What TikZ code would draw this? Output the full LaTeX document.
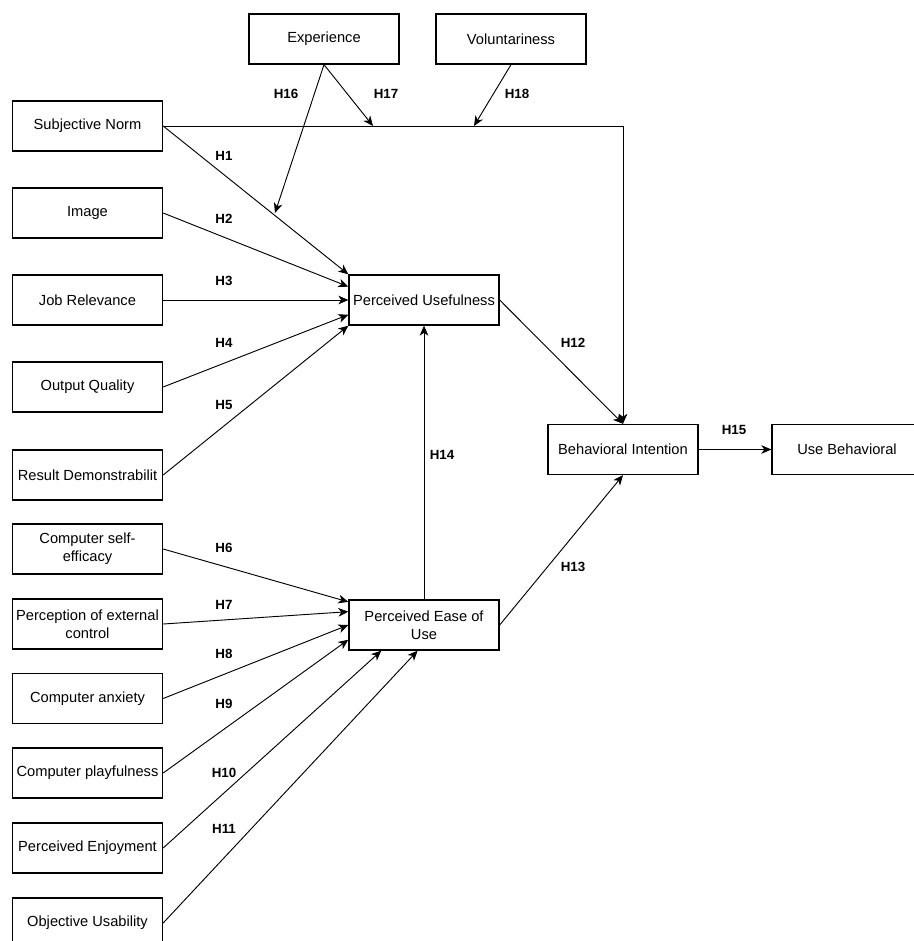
\documentclass[tikz,border=0pt]{standalone}
\usepackage{fontspec}
\setmainfont{Liberation Sans}
\usetikzlibrary{arrows.meta}

\begin{document}
\begin{tikzpicture}[x=0.75pt, y=-0.75pt,
    >={Stealth[length=7.5pt, width=6.5pt, inset=2.2pt]},
    box/.style={
        rectangle,
        draw,
        line width=1pt,
        minimum width=112.5pt,
        minimum height=37.5pt,
        inner sep=2pt,
        align=center,
        font=\fontsize{11}{13.5}\selectfont
    },
    hyp/.style={font=\fontsize{10}{12}\selectfont\bfseries, inner sep=1pt},
    link/.style={->, line width=0.7pt}
]
    \useasboundingbox (0,0) rectangle (913,941);

    % external variables
    \node (subjective_norm) [box] at (87.5,126) {Subjective Norm};
    \node (image) [box] at (87.5,213) {Image};
    \node (job_relevance) [box] at (87.5,300) {Job Relevance};
    \node (output_quality) [box] at (87.5,387) {Output Quality};
    \node (result_demonstrability) [box] at (87.5,475) {Result Demonstrabilit};
    \node (computer_self_efficacy) [box] at (87.5,549) {Computer self-\\efficacy};
    \node (perception_external_control) [box] at (87.5,624) {Perception of external\\control};
    \node (computer_anxiety) [box] at (87.5,698.5) {Computer anxiety};
    \node (computer_playfulness) [box] at (87.5,773) {Computer playfulness};
    \node (perceived_enjoyment) [box] at (87.5,848) {Perceived Enjoyment};
    \node (objective_usability) [box] at (87.5,923) {Objective Usability};

    % moderators
    \node (experience) [box] at (324,39) {Experience};
    \node (voluntariness) [box] at (511,39) {Voluntariness};

    % core model
    \node (perceived_usefulness) [box] at (424,300) {Perceived Usefulness};
    \node (perceived_ease_of_use) [box] at (424,625) {Perceived Ease of\\Use};
    \node (behavioral_intention) [box] at (623,449.5) {Behavioral Intention};
    \node (use_behavioral) [box] at (847,449.5) {Use Behavioral};

    \coordinate (exp_to_h1) at (275,213);
    \coordinate (exp_to_sn) at (373,126);
    \coordinate (vol_to_sn) at (474,126);


    \draw[link] (subjective_norm.east) -- (perceived_usefulness.north west);
    \draw[link] (image.east) -- (perceived_usefulness.170);
    \draw[link] (job_relevance.east) -- (perceived_usefulness.west);
    \draw[link] (output_quality.east) -- (perceived_usefulness.191);
    \draw[link] (result_demonstrability.east) -- (perceived_usefulness.south west);

    \draw[link] (computer_self_efficacy.east) -- (perceived_ease_of_use.163);
    \draw[link] (perception_external_control.east) -- (perceived_ease_of_use.170);
    \draw[link] (computer_anxiety.east) -- (perceived_ease_of_use.west);
    \draw[link] (computer_playfulness.east) -- (perceived_ease_of_use.191);
    \draw[link] (perceived_enjoyment.east) -- (perceived_ease_of_use.211);
    \draw[link] (objective_usability.east) -- (perceived_ease_of_use.256);

    \draw[link] (perceived_usefulness.east) -- (behavioral_intention.north);
    \draw[link] (perceived_ease_of_use.east) -- (behavioral_intention.south);
    \draw[link] (perceived_ease_of_use.north) -- (perceived_usefulness.south);
    \draw[link] (behavioral_intention.east) -- (use_behavioral.west);
    \draw[link] (subjective_norm.east) -| (behavioral_intention.north);

    \draw[link] (experience.south) -- (exp_to_h1);
    \draw[link] (experience.south) -- (exp_to_sn);
    \draw[link] (voluntariness.south) -- (vol_to_sn);


    % hypothesis labels
    \node (h1) [hyp] at (224,156) {H1};
    \node (h2) [hyp] at (224,219) {H2};
    \node (h3) [hyp] at (224,281) {H3};
    \node (h4) [hyp] at (224,343) {H4};
    \node (h5) [hyp] at (224,405) {H5};
    \node (h6) [hyp] at (224,548) {H6};
    \node (h7) [hyp] at (224,605) {H7};
    \node (h8) [hyp] at (224,654) {H8};
    \node (h9) [hyp] at (224,704) {H9};
    \node (h10) [hyp] at (224,773) {H10};
    \node (h11) [hyp] at (224,829) {H11};
    \node (h12) [hyp] at (573,343) {H12};
    \node (h13) [hyp] at (573,567) {H13};
    \node (h14) [hyp] at (442,455) {H14};
    \node (h15) [hyp] at (734,430) {H15};
    \node (h16) [hyp] at (286,94) {H16};
    \node (h17) [hyp] at (386,94) {H17};
    \node (h18) [hyp] at (517,94) {H18};
\end{tikzpicture}
\end{document}
